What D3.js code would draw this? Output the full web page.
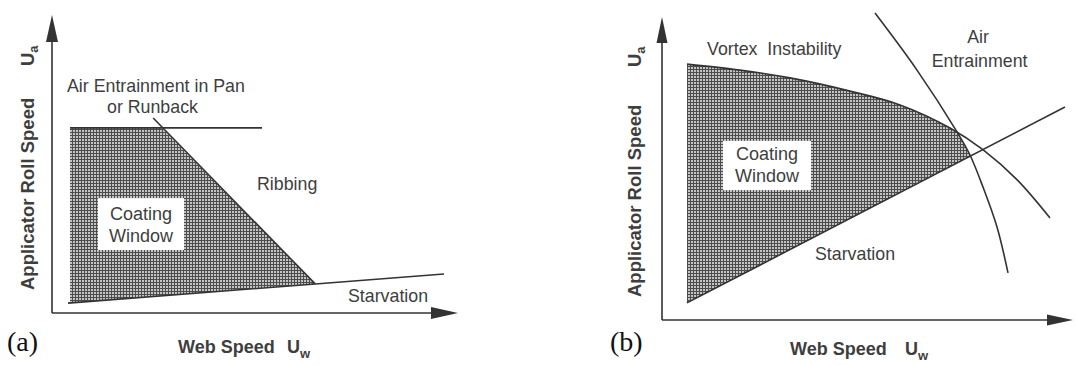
<!DOCTYPE html>
<html><head><meta charset="utf-8">
<script src="https://cdn.jsdelivr.net/npm/d3@7"></script>
<style>
html,body{margin:0;padding:0;background:#fff;}
svg{display:block;}
text{font-family:"Liberation Sans",Arial,Helvetica,sans-serif;fill:#3e3e3e;}
text.pl{font-family:"Liberation Serif","Times New Roman",serif;fill:#111;}
</style></head><body>
<svg id="c" width="1076" height="365"></svg>
<script>
// ---------------- DATA (arbitrary units 0..10 on both axes) ----------------
// Panel (a)
const axisEndA = [10.15, 9.93];                       // arrow tips [x, y]
const airLimitA = [[0.45, 6.17], [5.25, 6.17]];       // air entrainment in pan / runback
const ribbingA = [[2.53, 6.5], [6.58, 0.97]];          // ribbing limit
const starvationA = [[0.4, 0.33], [9.8, 1.3]];         // starvation limit
const windowA = [[0.45, 6.17], [2.75, 6.17], [6.58, 0.97], [0.45, 0.34]];
const labelsA = [
  {t: "Air Entrainment in Pan", x: 0.375, y: 7.37},
  {t: "or Runback", x: 1.375, y: 6.67},
  {t: "Ribbing", x: 5.125, y: 4.1},
  {t: "Starvation", x: 7.4, y: 0.37}
];
const windowBoxA = [[1.15, 3.83], [3.3, 2.1]];
const windowTextA = [{t: "Coating", x: 2.225, y: 3.1}, {t: "Window", x: 2.225, y: 2.37}];

// Panel (b)
const axisEndB = [10.275, 10.1];
const vortexB = [[0.625, 8.53], [1.95, 8.33], [3.2, 8.07], [4.7, 7.63], [5.95, 7.17],
                 [7.2, 6.4], [8.03, 5.67], [8.88, 4.67], [9.7, 3.4]];
const airB = [[5.325, 10.23], [6.375, 8.33], [7.375, 6.27], [7.7, 5.5],
              [8.025, 4.43], [8.375, 3.1], [8.65, 1.57]];
const starvationB = [[0.625, 0.57], [10.075, 7.1]];
const windowLeftB = 0.625;
const labelsB = [
  {t: "Vortex  Instability", x: 1.125, y: 8.83, a: "start"},
  {t: "Air", x: 7.9, y: 9.23, a: "middle"},
  {t: "Entrainment", x: 7.94, y: 8.43, a: "middle"},
  {t: "Starvation", x: 3.825, y: 2.0, a: "start"}
];
const windowBoxB = [[1.525, 5.97], [3.725, 4.33]];
const windowTextB = [{t: "Coating", x: 2.625, y: 5.33}, {t: "Window", x: 2.625, y: 4.6}];

const xTitle = ["Web Speed", "U", "w"];
const yTitle = ["Applicator Roll Speed", "U", "a"];
const panelTags = ["(a)", "(b)"];

// ---------------- DRAWING ----------------
const svg = d3.select("#c");
const LINE = "#333", SW = 1.6;

// hatch pattern
const defs = svg.append("defs");
const pat = defs.append("pattern").attr("id", "grid").attr("patternUnits", "userSpaceOnUse")
  .attr("width", 3).attr("height", 3);
pat.append("rect").attr("width", 3).attr("height", 3).attr("fill", "#c4c4c4");
pat.append("rect").attr("width", 3).attr("height", 1).attr("fill", "#4c4c4c");
pat.append("rect").attr("width", 1).attr("height", 3).attr("fill", "#4c4c4c");

function axes(g, x, y, end, arrow) {
  const x0 = x(0), y0 = y(0);
  const xt = x(end[0]), yt = y(end[1]);
  g.append("line").attr("x1", x0).attr("y1", y0).attr("x2", x0).attr("y2", yt + 10)
    .attr("stroke", LINE).attr("stroke-width", SW);
  g.append("line").attr("x1", x0).attr("y1", y0).attr("x2", xt - 10).attr("y2", y0)
    .attr("stroke", LINE).attr("stroke-width", SW);
  g.append("path").attr("d", `M${x0},${yt} L${x0 - arrow.w},${yt + arrow.l} L${x0 + arrow.w},${yt + arrow.l}Z`)
    .attr("fill", LINE);
  g.append("path").attr("d", `M${xt},${y0} L${xt - arrow.l},${y0 - arrow.w} L${xt - arrow.l},${y0 + arrow.w}Z`)
    .attr("fill", LINE);
}

function titles(g, xt, yt) {
  const tx = g.append("text").attr("x", xt.x).attr("y", xt.y)
    .style("font-weight", "bold").style("font-size", "18px");
  tx.append("tspan").text(xTitle[0]);
  tx.append("tspan").attr("x", xt.ux).text(xTitle[1]);
  tx.append("tspan").attr("dy", 5).style("font-size", "13px").text(xTitle[2]);

  const ty = g.append("text").attr("transform", `translate(${yt.x},${yt.y}) rotate(-90)`)
    .style("font-weight", "bold").style("font-size", "18.5px");
  ty.append("tspan").text(yTitle[0]);
  ty.append("tspan").attr("x", yt.ux).text(yTitle[1]);
  ty.append("tspan").attr("dy", 4).style("font-size", "13px").text(yTitle[2]);
}

function windowBox(g, x, y, box, texts) {
  g.append("rect").attr("x", x(box[0][0])).attr("y", y(box[0][1]))
    .attr("width", x(box[1][0]) - x(box[0][0])).attr("height", y(box[1][1]) - y(box[0][1]))
    .attr("fill", "#fff");
  g.selectAll(null).data(texts).join("text")
    .attr("x", d => x(d.x)).attr("y", d => y(d.y))
    .attr("text-anchor", "middle").style("font-size", "18px").text(d => d.t);
}

// ---------- Panel (a) ----------
{
  const x = d3.scaleLinear().domain([0, 10]).range([52, 452]);
  const y = d3.scaleLinear().domain([0, 10]).range([313, 13]);
  const g = svg.append("g");
  const line = d3.line().x(d => x(d[0])).y(d => y(d[1]));

  g.append("path").attr("d", line(windowA) + "Z").attr("fill", "url(#grid)");
  [airLimitA, ribbingA, starvationA].forEach(s =>
    g.append("path").attr("d", line(s)).attr("fill", "none")
      .attr("stroke", LINE).attr("stroke-width", SW));
  axes(g, x, y, axisEndA, {w: 6, l: 27});
  windowBox(g, x, y, windowBoxA, windowTextA);
  g.selectAll(null).data(labelsA).join("text")
    .attr("x", d => x(d.x)).attr("y", d => y(d.y))
    .style("font-size", "17.8px").text(d => d.t);
  titles(g, {x: 178, y: 353, ux: 287}, {x: 34, y: 290, ux: 224});
  g.append("text").attr("class", "pl").attr("x", 7).attr("y", 351)
    .style("font-size", "28px").text(panelTags[0]);
}

// ---------- Panel (b) ----------
{
  const x = d3.scaleLinear().domain([0, 10]).range([662, 1062]);
  const y = d3.scaleLinear().domain([0, 10]).range([320, 20]);
  const g = svg.append("g");
  const curve = d3.curveCatmullRom.alpha(0.5);
  const line = d3.line().x(d => x(d[0])).y(d => y(d[1]));
  const cline = d3.line().x(d => x(d[0])).y(d => y(d[1])).curve(curve);

  // clip regions: below vortex curve, above starvation line, left of air-entrainment curve
  defs.append("clipPath").attr("id", "cv").append("path")
    .attr("d", d3.area().x(d => x(d[0])).y0(y(-1)).y1(d => y(d[1])).curve(curve)(vortexB));
  const s0 = starvationB[0], s1 = starvationB[1];
  defs.append("clipPath").attr("id", "cs").append("path")
    .attr("d", line([s0, s1, [s1[0], 12], [s0[0], 12]]) + "Z");
  const aLast = airB[airB.length - 1], aFirst = airB[0];
  defs.append("clipPath").attr("id", "ca").append("path")
    .attr("d", cline(airB) + `L${x(aLast[0])},${y(-1)}L${x(-1)},${y(-1)}L${x(-1)},${y(12)}L${x(aFirst[0])},${y(12)}Z`);

  g.append("g").attr("clip-path", "url(#cv)")
    .append("g").attr("clip-path", "url(#cs)")
    .append("g").attr("clip-path", "url(#ca)")
    .append("rect").attr("x", x(windowLeftB)).attr("y", y(12))
    .attr("width", x(10) - x(windowLeftB)).attr("height", y(0) - y(12))
    .attr("fill", "url(#grid)");

  [vortexB, airB].forEach(s =>
    g.append("path").attr("d", cline(s)).attr("fill", "none")
      .attr("stroke", LINE).attr("stroke-width", SW));
  g.append("path").attr("d", line(starvationB)).attr("fill", "none")
    .attr("stroke", LINE).attr("stroke-width", SW);
  axes(g, x, y, axisEndB, {w: 5.5, l: 26});
  windowBox(g, x, y, windowBoxB, windowTextB);
  g.selectAll(null).data(labelsB).join("text")
    .attr("x", d => x(d.x)).attr("y", d => y(d.y))
    .attr("text-anchor", d => d.a).style("white-space", "pre")
    .style("font-size", "17.8px").text(d => d.t);
  titles(g, {x: 790, y: 355, ux: 905}, {x: 641, y: 297, ux: 230});
  g.append("text").attr("class", "pl").attr("x", 610).attr("y", 351)
    .style("font-size", "28px").text(panelTags[1]);
}
</script>
</body></html>
